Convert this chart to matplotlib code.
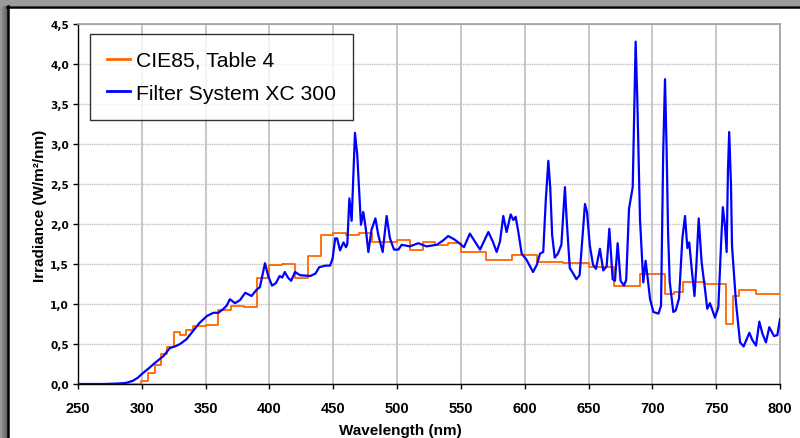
import numpy as np
import matplotlib
matplotlib.use("Agg")
import matplotlib.pyplot as plt
from matplotlib.patches import Rectangle
from matplotlib.lines import Line2D

# ---- data ----
cie_wl = [250, 299, 305, 310, 315, 320, 325, 330, 335, 340, 350, 360, 370, 380, 390,
          400, 410, 420, 430, 440, 450, 460, 470, 480, 500, 510, 520, 530, 540, 550,
          570, 590, 610, 630, 650, 670, 690, 710, 717, 724, 741, 758, 763, 768, 781, 800]
cie_irr = [0.0, 0.04, 0.14, 0.24, 0.37, 0.46, 0.65, 0.61, 0.68, 0.72, 0.74, 0.93, 0.97, 0.96, 1.33,
           1.49, 1.50, 1.33, 1.60, 1.86, 1.89, 1.86, 1.89, 1.77, 1.80, 1.68, 1.77, 1.74, 1.76, 1.65,
           1.55, 1.61, 1.53, 1.51, 1.46, 1.22, 1.37, 1.13, 1.15, 1.28, 1.25, 0.75, 1.10, 1.17, 1.12, 1.12]

xc_wl = [250, 260, 270, 280, 285, 288, 293, 297, 300, 305, 310, 317, 322, 326, 330, 335, 340, 345,
         351, 356, 360, 364, 366.5, 369, 373, 377, 381, 386, 390, 392.5, 396.5, 399, 402, 405, 408,
         410, 412, 414.5, 417, 420, 424, 432, 436, 439, 444, 447.5, 449.5, 451.5, 453, 455.3, 458,
         460, 461, 462.6, 464.4, 467, 468.8, 471.7, 473.5, 475.4, 477.5, 480, 483, 485.3, 488.7,
         491.8, 494.4, 497.6, 501, 503.6, 510, 516.6, 523, 531, 535.7, 540, 544.6, 548.7, 552.4,
         557, 561, 565, 571.5, 575, 578, 580.6, 583.2, 585.8, 589, 591.1, 592.9, 595, 597.6, 601.5,
         606.5, 609.5, 612, 614.5, 616.5, 618.5, 620, 621.5, 623.5, 626, 628.7, 630, 631.5, 632.8,
         635.3, 638, 640.5, 643, 645, 647.2, 648.8, 651, 653.5, 655.8, 658.9, 661.5, 664.2, 666.3,
         668.9, 670.7, 672.8, 675.1, 677.7, 679.5, 681.7, 684.6, 686.9, 688.2, 690.3, 692.9, 694.7,
         696.5, 698.2, 700.8, 704.8, 706.8, 708.5, 709.9, 711.2, 712.3, 713.6, 716.4, 718.3, 720.9,
         723.5, 725.6, 727.4, 728.9, 730.5, 733, 734.5, 736.3, 738.6, 741.2, 743, 745.1, 746.9, 749,
         751.7, 753.8, 755.2, 756.8, 758.2, 759.2, 760.2, 761.6, 762.4, 765.5, 768.7, 771.5, 773.6,
         776, 778.3, 781.2, 783.8, 786.2, 789, 791.6, 795.3, 797.9, 800]
xc_irr = [0.0, 0.0, 0.0, 0.005, 0.01, 0.015, 0.04, 0.08, 0.125, 0.19, 0.26, 0.35, 0.45, 0.47, 0.50,
          0.56, 0.66, 0.76, 0.85, 0.89, 0.89, 0.94, 0.98, 1.06, 1.01, 1.05, 1.14, 1.10, 1.18, 1.21,
          1.51, 1.35, 1.23, 1.26, 1.35, 1.33, 1.40, 1.33, 1.29, 1.40, 1.36, 1.35, 1.38, 1.46, 1.48,
          1.48, 1.57, 1.82, 1.82, 1.67, 1.77, 1.71, 1.75, 2.32, 2.04, 3.14, 2.86, 1.99, 2.15, 1.95,
          1.65, 1.93, 2.07, 1.86, 1.65, 2.10, 1.82, 1.68, 1.68, 1.74, 1.72, 1.76, 1.72, 1.74, 1.79,
          1.85, 1.81, 1.76, 1.71, 1.88, 1.78, 1.68, 1.90, 1.78, 1.65, 1.78, 2.10, 1.90, 2.12, 2.05,
          2.09, 1.90, 1.63, 1.55, 1.40, 1.49, 1.63, 1.65, 2.30, 2.79, 2.45, 1.86, 1.58, 1.63, 1.74,
          2.07, 2.46, 2.07, 1.45, 1.38, 1.31, 1.36, 1.78, 2.25, 2.15, 1.73, 1.49, 1.44, 1.69, 1.42,
          1.47, 1.94, 1.31, 1.29, 1.76, 1.29, 1.23, 1.30, 2.19, 2.46, 4.28, 3.56, 2.06, 1.27, 1.54,
          1.30, 1.06, 0.90, 0.88, 0.98, 2.90, 3.81, 2.90, 1.90, 1.28, 0.90, 0.92, 1.07, 1.82, 2.10,
          1.70, 1.77, 1.49, 1.10, 1.49, 2.07, 1.52, 1.19, 0.94, 1.01, 0.93, 0.83, 0.96, 1.74, 2.21,
          1.99, 1.65, 2.65, 3.15, 2.48, 1.73, 1.02, 0.52, 0.47, 0.55, 0.64, 0.55, 0.48, 0.78, 0.63,
          0.52, 0.71, 0.60, 0.61, 0.81]

x_ticks = [250, 300, 350, 400, 450, 500, 550, 600, 650, 700, 750, 800]
y_ticks = [0.0, 0.5, 1.0, 1.5, 2.0, 2.5, 3.0, 3.5, 4.0, 4.5]
series_names = ["CIE85, Table 4", "Filter System XC 300"]
x_label = "Wavelength (nm)"
y_label = "Irradiance (W/m²/nm)"

W, H = 800, 439
fig = plt.figure(figsize=(W / 100, H / 100), dpi=100)
fig.patch.set_facecolor("white")

# frame: gray top band, gradient left band, black inner lines
fig.patches.append(Rectangle((0, 1 - 7 / H), 1, 7 / H, transform=fig.transFigure,
                             facecolor="#9a9a9a", edgecolor="none", zorder=0))
gax = fig.add_axes([0, 0, 7 / W, 1])
grad = np.linspace(0.62, 0.35, 50).reshape(1, -1)
gax.imshow(np.dstack([grad, grad, grad]), aspect="auto", extent=[0, 1, 0, 1])
gax.set_axis_off()
fig.lines.append(Line2D([7 / W, 1], [1 - 7.5 / H, 1 - 7.5 / H], transform=fig.transFigure,
                        color="black", lw=1.8))
fig.lines.append(Line2D([7.5 / W, 7.5 / W], [0, 1 - 7 / H], transform=fig.transFigure,
                        color="black", lw=1.8))

ax = fig.add_axes([78 / W, 1 - 385 / H, 702 / W, 360 / H])
ax.set_xlim(250, 800)
ax.set_ylim(0, 4.5)

# grid
for xv in x_ticks:
    ax.axvline(xv, color="#b8b8b8", lw=1.1, zorder=0.5)
for yv in y_ticks:
    ax.axhline(yv, color="#c4c4c4", lw=1.0, ls=(0, (1, 0.6)), zorder=0.5)

ax.plot(cie_wl, cie_irr, drawstyle="steps-post", color="#ff6600", lw=1.3,
        label=series_names[0], zorder=3)
ax.plot(xc_wl, xc_irr, color="#0000ff", lw=1.6, label=series_names[1], zorder=4)

for s in ["left", "bottom"]:
    ax.spines[s].set_color("black")
    ax.spines[s].set_linewidth(1.0)
for s in ["top", "right"]:
    ax.spines[s].set_color("#a0a0a0")
    ax.spines[s].set_linewidth(1.2)

ax.set_xticks(x_ticks)
ax.set_xticklabels([str(v) for v in x_ticks], fontfamily="Liberation Sans",
                   fontweight="bold", fontsize=10.5)
ax.set_yticks(y_ticks)
ax.set_yticklabels([f"{v:.1f}".replace(".", ",") for v in y_ticks], fontfamily="DejaVu Sans",
                   fontweight="bold", fontsize=7.6)
ax.tick_params(axis="x", direction="out", length=3.5, width=1, pad=8.5)
ax.tick_params(axis="y", direction="out", length=3.5, width=1, pad=3)

fig.text(0.5, 1 - 431 / H, x_label, ha="center", va="center", fontfamily="Liberation Sans",
         fontweight="bold", fontsize=11)
fig.text(40 / W, 1 - 206 / H, y_label, ha="center", va="center", rotation=90,
         fontfamily="Liberation Sans", fontweight="bold", fontsize=11)

leg = ax.legend(loc="upper left", bbox_to_anchor=(12 / 702, 350 / 360), borderaxespad=0,
                prop={"family": "Liberation Sans", "size": 15.2}, frameon=True,
                fancybox=False, edgecolor="black", handlelength=1.1, handletextpad=0.3,
                labelspacing=0.65, borderpad=0.8)
leg.get_frame().set_linewidth(1.0)
leg.set_zorder(6)
for line in leg.get_lines():
    line.set_linewidth(2.0)

fig.savefig("out.png", dpi=100, facecolor=fig.get_facecolor())
